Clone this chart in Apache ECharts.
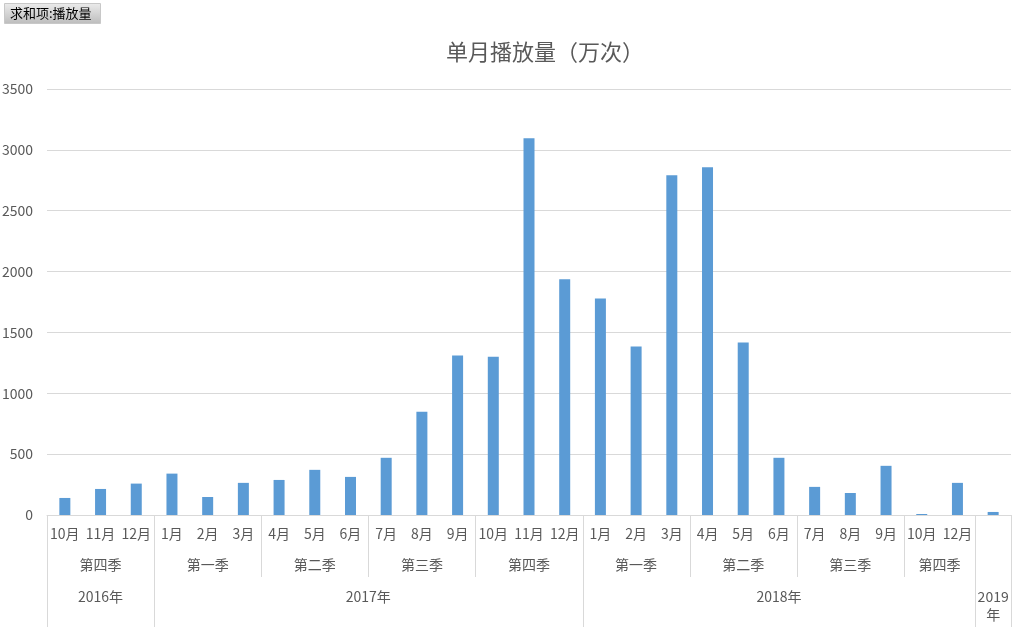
<!DOCTYPE html>
<html><head><meta charset="utf-8">
<script src="https://cdn.jsdelivr.net/npm/echarts@6/dist/echarts.min.js"></script>
<style>html,body{margin:0;padding:0;background:#fff}#main{width:1029px;height:632px}</style>
</head><body><div id="main"></div>
<script>
const months = ['10月','11月','12月','1月','2月','3月','4月','5月','6月','7月','8月','9月','10月','11月','12月','1月','2月','3月','4月','5月','6月','7月','8月','9月','10月','12月',''];
const quarters = ['第四季','第四季','第四季','第一季','第一季','第一季','第二季','第二季','第二季','第三季','第三季','第三季','第四季','第四季','第四季','第一季','第一季','第一季','第二季','第二季','第二季','第三季','第三季','第三季','第四季','第四季',''];
const years = ['2016年','2016年','2016年','2017年','2017年','2017年','2017年','2017年','2017年','2017年','2017年','2017年','2017年','2017年','2017年','2018年','2018年','2018年','2018年','2018年','2018年','2018年','2018年','2018年','2018年','2018年','2019年'];
const plays = [140,214,258,340,148,264,288,371,313,470,848,1310,1301,3095,1936,1779,1384,2792,2858,1417,470,231,181,404,8,264,25];
const yMin = 0, yMax = 3500, yStep = 500;

const FONT = '"Noto Sans CJK SC", "Microsoft YaHei", sans-serif';
const TXT = '#595959', GRID = '#d9d9d9';
const chart = echarts.init(document.getElementById('main'));
chart.setOption({
  animation: false,
  title: {text: '单月播放量（万次）', left: 441, top: 36,
    textStyle: {fontSize: 22, fontWeight: 'normal', color: TXT, fontFamily: FONT}},
  grid: {left: 47, right: 18, top: 89, bottom: 117, containLabel: false, outerBoundsMode: 'none'},
  xAxis: {type: 'category', data: months.map((m, i) => 'c' + i),
    axisLine: {lineStyle: {color: GRID}}, axisTick: {show: false},
    axisLabel: {interval: 0, margin: 12, color: TXT, fontSize: 14, fontFamily: FONT,
      formatter: (v, i) => months[i]}},
  yAxis: {type: 'value', min: yMin, max: yMax, interval: yStep,
    axisLine: {show: false}, axisTick: {show: false},
    splitLine: {lineStyle: {color: GRID}},
    axisLabel: {color: TXT, fontSize: 14, margin: 14, fontFamily: FONT, formatter: v => String(v)}},
  series: [{type: 'bar', data: plays, barWidth: 11, itemStyle: {color: '#5b9bd5'}}]
});

function runs(keys, labels) {
  const out = [];
  for (let i = 0; i < keys.length; i++) {
    if (i === 0 || keys[i] !== keys[i - 1]) out.push({label: labels[i], start: i, end: i});
    else out[out.length - 1].end = i;
  }
  return out;
}
const cx = i => chart.convertToPixel({xAxisIndex: 0}, i);
const band = cx(1) - cx(0);
const left = i => cx(i) - band / 2;
const y0 = chart.convertToPixel({yAxisIndex: 0}, 0);
const yQ = y0 + 62, yBottom = 627;

const qRuns = runs(quarters.map((q, i) => years[i] + '|' + q), quarters);
const yRuns = runs(years, years);
const yearStarts = new Set(yRuns.map(r => r.start));
const g = [];
const vline = (x, y2) => g.push({type: 'line', silent: true,
  shape: {x1: Math.round(x) + 0.5, y1: y0, x2: Math.round(x) + 0.5, y2: y2},
  style: {stroke: GRID, lineWidth: 1}});
qRuns.forEach(r => vline(left(r.start), yearStarts.has(r.start) ? yBottom : yQ));
vline(left(years.length - 1) + band, yBottom);
qRuns.forEach(r => {
  if (!r.label) return;
  g.push({type: 'text', silent: true, x: (cx(r.start) + cx(r.end)) / 2, y: y0 + 50,
    style: {text: r.label, fill: TXT, font: '14px ' + FONT, align: 'center', verticalAlign: 'middle'}});
});
yRuns.forEach(r => {
  const w = (r.end - r.start + 1) * band - 2;
  g.push({type: 'text', silent: true, x: (cx(r.start) + cx(r.end)) / 2, y: y0 + 73,
    style: {text: r.label, fill: TXT, font: '14px ' + FONT, align: 'center', verticalAlign: 'top',
      width: w, overflow: 'break', lineHeight: 18}});
});
// pivot field button
g.push({type: 'rect', silent: true, shape: {x: 4.5, y: 3.5, width: 96, height: 20},
  style: {fill: new echarts.graphic.LinearGradient(0, 0, 0, 1, [{offset: 0, color: '#ececec'}, {offset: 1, color: '#bcbcbc'}]),
    stroke: '#c8c8c8', lineWidth: 1}});
g.push({type: 'text', silent: true, x: 10, y: 13.5,
  style: {text: '求和项:播放量', fill: '#000', font: '13px ' + FONT, verticalAlign: 'middle'}});
chart.setOption({graphic: g});
</script></body></html>
